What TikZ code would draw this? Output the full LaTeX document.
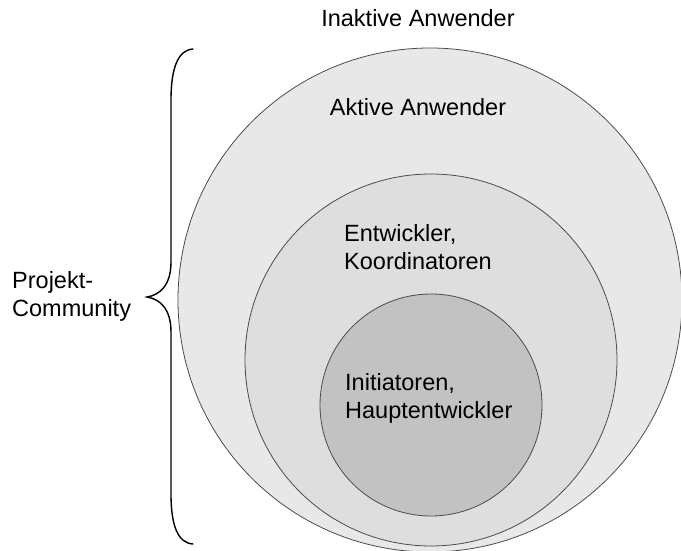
\documentclass[tikz,border=0pt]{standalone}
\usepackage{fontspec}
\setmainfont{Liberation Sans}
\begin{document}
\begin{tikzpicture}[x=1pt,y=-1pt,
  ring/.style={draw=black!70,line width=0.8pt},
  lbl/.style={inner sep=0pt,font=\fontsize{23.5}{28}\selectfont},
  bracestroke/.style={draw=black,line width=1.4pt}]
  \useasboundingbox (0,0) rectangle (681,551);
  % nested community circles
  \fill[ring,fill=black!9] (430,300) circle[radius=252];
  \fill[ring,fill=black!13] (431,360) circle[radius=186];
  \fill[ring,fill=black!24] (431,405) circle[radius=111];
  % labels
  \node[lbl,anchor=base] (inaktiv) at (418,27) {Inaktive Anwender};
  \node[lbl,anchor=base] (aktiv) at (418,116) {Aktive Anwender};
  \node[lbl,anchor=north west,align=left] (entw) at (344,224) {Entwickler,\\Koordinatoren};
  \node[lbl,anchor=north west,align=left] (init) at (345,373) {Initiatoren,\\Hauptentwickler};
  \node[lbl,anchor=north west,align=left] (proj) at (12,271) {Projekt-\\Community};
  % curly brace around the community
  \draw[bracestroke,line cap=round]
    (193,49) .. controls (178,50) and (171,68) .. (171,100)
    -- (171,262) .. controls (171,285) and (160,295) .. (147,297)
    .. controls (160,299) and (171,309) .. (171,332)
    -- (171,494) .. controls (171,526) and (178,543) .. (193,544);
\end{tikzpicture}
\end{document}
